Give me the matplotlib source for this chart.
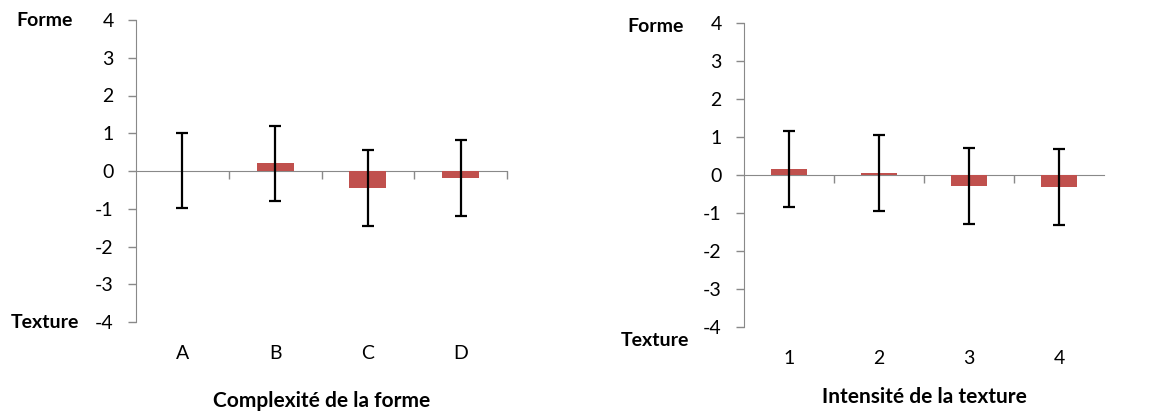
import matplotlib.pyplot as plt

plt.rcParams['font.family'] = ['Lato', 'DejaVu Sans']

# left chart
forme_cats = ["A", "B", "C", "D"]
forme_vals = [0.01, 0.2, -0.45, -0.19]
forme_err = [1.0, 1.0, 1.0, 1.0]

# right chart
texture_cats = ["1", "2", "3", "4"]
texture_vals = [0.15, 0.04, -0.28, -0.32]
texture_err = [1.0, 1.0, 1.0, 1.0]

W, H = 1155, 412
fig = plt.figure(figsize=(W / 100, H / 100), dpi=100)

red = "#C0504D"
grey = "#898989"


def draw(ax, cats, vals, err, xlabel, boundary_ticks, xlab_y):
    x = list(range(len(cats)))
    ax.bar(x, vals, width=0.4, color=red, zorder=2)
    ax.errorbar(x, vals, yerr=err, fmt="none", ecolor="black",
                elinewidth=1.6, capsize=4.5, capthick=1.6, zorder=3)
    ax.set_xlim(-0.5, 3.5)
    ax.set_ylim(-4, 4)
    ax.set_yticks(range(-4, 5))
    ax.set_yticklabels([str(v) for v in range(-4, 5)], fontsize=14)
    for s in ["top", "right"]:
        ax.spines[s].set_visible(False)
    ax.spines["left"].set_color(grey)
    ax.spines["bottom"].set_color(grey)
    ax.spines["bottom"].set_position(("data", 0))
    ax.spines["bottom"].set_zorder(1)
    ax.tick_params(axis="y", colors=grey, labelcolor="black", length=6,
                   width=1, pad=10)
    ax.set_xticks(boundary_ticks)
    ax.set_xticklabels([])
    ax.tick_params(axis="x", colors=grey, length=6, width=1, direction="out")
    trans = ax.get_xaxis_transform()
    for xi, c in zip(x, cats):
        ax.text(xi, -0.103, c, transform=trans, ha="center", va="center",
                fontsize=14)
    ax.text(1.5, xlab_y, xlabel, transform=trans, ha="center", va="center",
            fontsize=15, fontweight="bold")


ax1 = fig.add_axes([136 / W, 1 - 322 / H, 371 / W, 302 / H])
draw(ax1, forme_cats, forme_vals, forme_err, "Complexité de la forme",
     [0.5, 1.5, 2.5, 3.5], -0.26)

ax2 = fig.add_axes([744 / W, 1 - 327 / H, 360 / W, 304 / H])
draw(ax2, texture_cats, texture_vals, texture_err, "Intensité de la texture",
     [0.5, 1.5, 2.5], -0.23)

fig.text(45 / W, 1 - 20 / H, "Forme", ha="center", va="center",
         fontsize=14, fontweight="bold")
fig.text(45 / W, 1 - 322 / H, "Texture", ha="center", va="center",
         fontsize=14, fontweight="bold")
fig.text(656 / W, 1 - 27 / H, "Forme", ha="center", va="center",
         fontsize=14, fontweight="bold")
fig.text(655 / W, 1 - 340 / H, "Texture", ha="center", va="center",
         fontsize=14, fontweight="bold")

fig.savefig("out.png", dpi=100)
